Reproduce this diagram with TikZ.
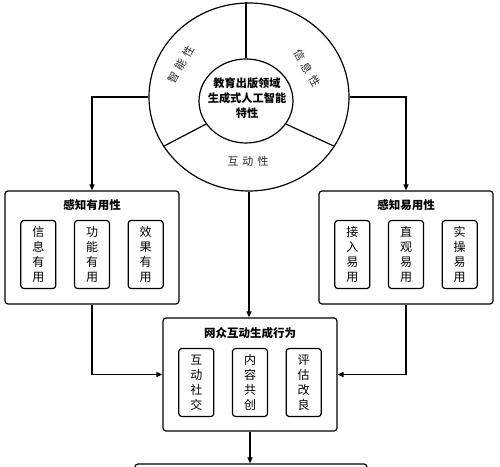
\documentclass[tikz,border=0pt]{standalone}
\usepackage{fontspec}
\setmainfont{Noto Sans CJK SC}
\usetikzlibrary{positioning,shapes.geometric,arrows.meta}

\begin{document}
\begin{tikzpicture}[x=1pt,y=1pt,line width=1.2pt,
  >={Triangle[length=6pt,width=5pt]},
  box/.style={draw,rounded corners=3pt,minimum width=174pt,minimum height=113pt},
  cell/.style={draw,rounded corners=3pt,minimum width=35pt,minimum height=68pt,
    inner sep=0pt,align=center,font=\fontsize{12}{15}\selectfont},
  head/.style={font=\bfseries\fontsize{11.5}{14}\selectfont},
  ring/.style={text=black!85,font=\fontsize{11}{12}\selectfont}]
  \useasboundingbox (0,0) rectangle (500,466);
  \clip (0,0) rectangle (500,466);

  % Kreis
  \node[draw,ellipse,minimum width=200pt,minimum height=188pt] (outer) at (249,369) {};
  \node[draw,ellipse,minimum width=94pt,minimum height=84pt] (inner) at (246,365) {};
  \node[align=center,font=\bfseries\fontsize{11.2}{15}\selectfont] (core) at (247,368)
    {教育出版领域\\生成式人工智能\\特性};
  \draw (inner.north) -- (inner.north |- outer.north);
  \draw (inner.210) -- (outer.210);
  \draw (inner.330) -- (outer.330);
  \node[ring,rotate=60] (smart) at (181,401) {智\hspace{4pt}能\hspace{4pt}性};
  \node[ring,rotate=-60] (info) at (307,398) {信\hspace{4pt}息\hspace{4pt}性};
  \node[ring] (inter) at (248,305) {互\hspace{4pt}动\hspace{4pt}性};

  % Box links
  \node[box] (useful) at (92,218.5) {};
  \node[head] (usefulhead) at ([yshift=-15pt]useful.north) {感知有用性};
  \node[cell] (u2) at ([yshift=-7pt]useful.center) {功\\能\\有\\用};
  \node[cell,left=17.5pt of u2] (u1) {信\\息\\有\\用};
  \node[cell,right=17.5pt of u2] (u3) {效\\果\\有\\用};

  % Box rechts
  \node[box] (easy) at (406,218.5) {};
  \node[head] (easyhead) at ([yshift=-15pt]easy.north) {感知易用性};
  \node[cell] (e2) at ([yshift=-7pt]easy.center) {直\\观\\易\\用};
  \node[cell,left=17.5pt of e2] (e1) {接\\入\\易\\用};
  \node[cell,right=17.5pt of e2] (e3) {实\\操\\易\\用};

  % Box mitte
  \node[box] (act) at (250,91.5) {};
  \node[head] (acthead) at ([yshift=-16pt]act.north) {网众互动生成行为};
  \node[cell] (a2) at ([yshift=-8pt]act.center) {内\\容\\共\\创};
  \node[cell,left=17.5pt of a2] (a1) {互\\动\\社\\交};
  \node[cell,right=17.5pt of a2] (a3) {评\\估\\改\\良};

  % Box unten
  \node[draw,rounded corners=3pt,minimum width=232pt,minimum height=30pt] (result) at (251,-13) {};

  % Pfeile
  \draw[->] (outer.west) -| (useful.north);
  \draw[->] (outer.east) -| (easy.north);
  \draw[->] (outer.south) -- (outer.south |- act.north);
  \draw[->] (useful.south) |- (act.west);
  \draw[->] (easy.south) |- (act.east);
  \draw[->] (act.south) -- (act.south |- result.north);
\end{tikzpicture}
\end{document}
